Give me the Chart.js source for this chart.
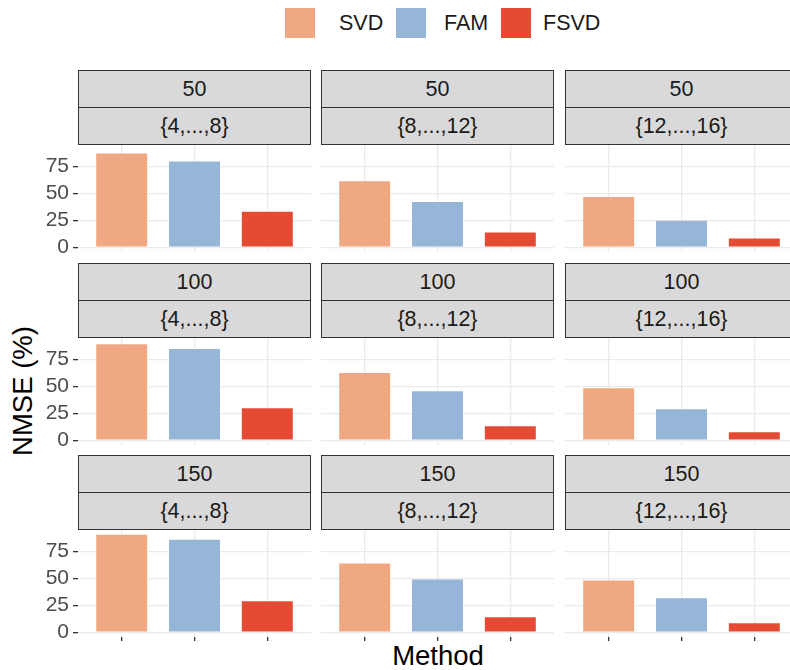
<!DOCTYPE html>
<html>
<head>
<meta charset="utf-8">
<script src="https://cdn.jsdelivr.net/npm/chart.js@4.4.1/dist/chart.umd.min.js"></script>
<style>
  body { margin: 0; width: 790px; height: 670px; overflow: hidden; background: #fff; position: relative;
         font-family: "Liberation Sans", Arial, sans-serif; }
  canvas { position: absolute; }
  .strip { position: absolute; box-sizing: border-box; background: #d9d9d9; border: 1px solid #333;
           color: #1a1a1a; font-size: 21.5px; text-align: center; line-height: 36px; }
  .key { position: absolute; top: 8px; width: 30px; height: 30px; }
  .lab { position: absolute; top: 8px; line-height: 30px; font-size: 21.5px; color: #1a1a1a; }
  .title { position: absolute; font-size: 27.5px; color: #000; white-space: nowrap; line-height: 1; }
</style>
</head>
<body>
<div class="title" style="left:438px; top:656px; transform:translate(-50%,-50%);">Method</div>
<div class="title" style="left:23px; top:391px; transform:translate(-50%,-50%) rotate(-90deg);">NMSE (%)</div>
<script>
const methods = ['SVD', 'FAM', 'FSVD'];
const methodColors = ['#f0a882', '#96b6d8', '#e34b33'];
const sampleSizes = ['50', '100', '150'];                     // upper strip, one per row
const ranges = ['{4,...,8}', '{8,...,12}', '{12,...,16}'];    // lower strip, one per column
// NMSE (%) per panel, row by row
const svdNmse  = [87.0, 61.2, 46.5, 89.2, 62.3, 48.3, 90.4, 63.7, 48.0];
const famNmse  = [79.6, 42.0, 24.5, 84.6, 45.5, 28.8, 85.8, 48.9, 31.4];
const fsvdNmse = [32.8, 13.5, 8.0, 29.7, 13.0, 7.4, 28.6, 13.8, 8.3];
const yTicks = [0, 25, 50, 75];

const series = [svdNmse, famNmse, fsvdNmse];

// layout of the facet grid
const colLeft = [78, 321, 565];
const rowTop = [70, 263, 455];
const panelW = 233, panelH = 107, stripH = 37, pad = 24, axisW = 78;
const keyLeft = [285, 396, 501], labLeft = [339, 444, 543];

Chart.defaults.font.family = '"Liberation Sans", Arial, sans-serif';

methods.forEach((m, k) => {
    const key = document.createElement('div');
    key.className = 'key';
    key.style.left = keyLeft[k] + 'px';
    key.style.background = methodColors[k];
    const lab = document.createElement('div');
    lab.className = 'lab';
    lab.style.left = labLeft[k] + 'px';
    lab.textContent = m;
    document.body.appendChild(key);
    document.body.appendChild(lab);
});

function addStrip(text, left, top, height) {
    const d = document.createElement('div');
    d.className = 'strip';
    d.textContent = text;
    d.style.left = left + 'px';
    d.style.top = top + 'px';
    d.style.width = panelW + 'px';
    d.style.height = height + 'px';
    document.body.appendChild(d);
}

function makePanel(r, c) {
    const i = r * 3 + c;
    const first = c === 0;
    const last = r === 2;
    const panelTop = rowTop[r] + 2 * stripH + 1;

    const canvas = document.createElement('canvas');
    canvas.width = panelW + (first ? axisW : 0);
    canvas.height = panelH + 2 * pad + (last ? 5 : 0);
    canvas.style.left = (first ? colLeft[0] - axisW : colLeft[c]) + 'px';
    canvas.style.top = (panelTop - pad) + 'px';
    document.body.appendChild(canvas);

    new Chart(canvas.getContext('2d'), {
        type: 'bar',
        data: {
            datasets: [{
                data: methods.map((m, k) => ({ x: k + 1, y: series[k][i] })),
                backgroundColor: methodColors,
                borderWidth: 0,
                inflateAmount: 0,
                barPercentage: 0.7,
                categoryPercentage: 1.0
            }]
        },
        options: {
            responsive: false,
            animation: false,
            layout: { padding: { top: pad, bottom: pad, left: 0, right: 0 } },
            plugins: { legend: { display: false }, tooltip: { enabled: false } },
            scales: {
                x: {
                    type: 'linear',
                    offset: false,
                    min: 0.4,
                    max: 3.6,
                    afterBuildTicks: s => { s.ticks = methods.map((m, k) => ({ value: k + 1 })); },
                    afterFit: s => { s.height = last ? 5 : 0; },
                    ticks: { display: false },
                    border: { display: false },
                    grid: { offset: false, color: '#ebebeb', lineWidth: 1.3, drawTicks: last, tickLength: 4, tickColor: '#333' }
                },
                y: {
                    type: 'linear',
                    min: -4.5,
                    max: 94.9,
                    afterBuildTicks: s => { s.ticks = yTicks.map(v => ({ value: v })); },
                    afterFit: s => { s.width = first ? axisW : 0; },
                    ticks: { display: first, autoSkip: false, color: '#4d4d4d', font: { size: 21 }, padding: 4 },
                    border: { display: false },
                    grid: { color: '#ebebeb', lineWidth: 1.3, drawTicks: first, tickLength: 5, tickColor: '#333' }
                }
            }
        }
    });

    addStrip(sampleSizes[r], colLeft[c], rowTop[r], stripH + 1);
    addStrip(ranges[c], colLeft[c], rowTop[r] + stripH, stripH + 1);
}

for (let r = 0; r < 3; r++) {
    for (let c = 0; c < 3; c++) {
        makePanel(r, c);
    }
}
</script>
</body>
</html>
